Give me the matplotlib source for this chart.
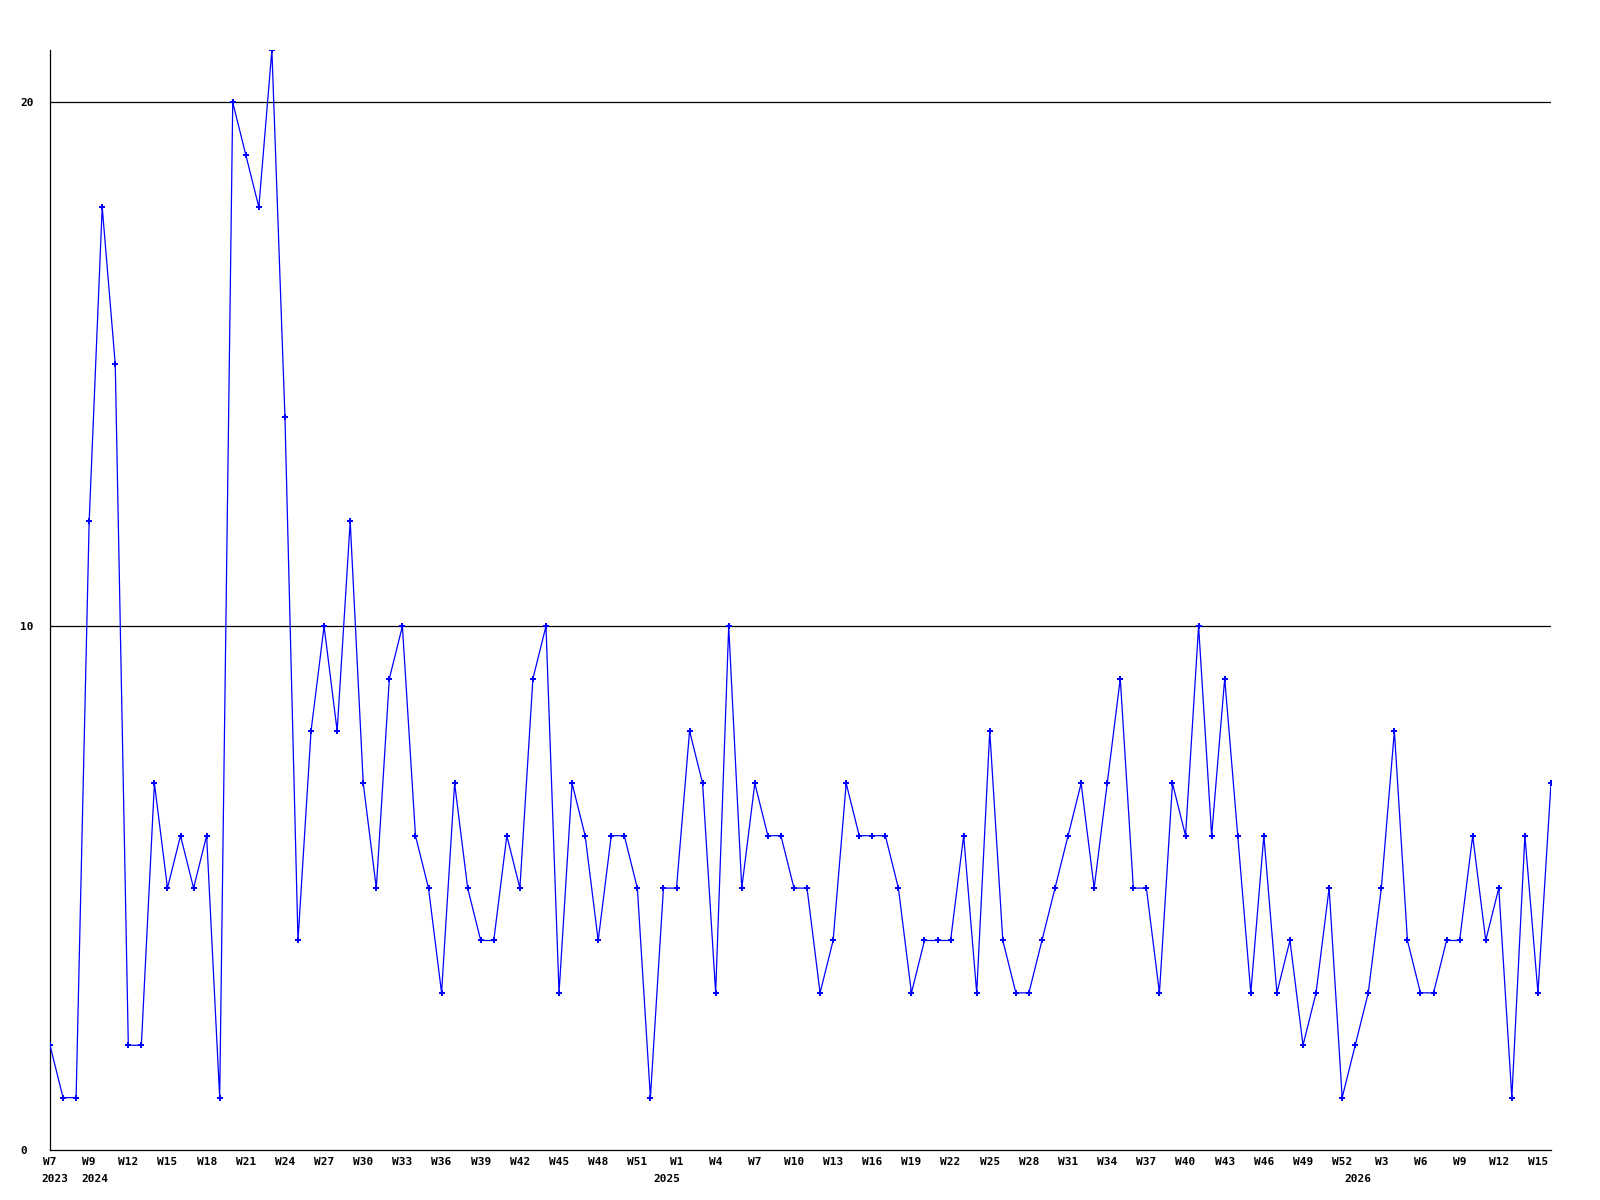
import matplotlib
matplotlib.use("Agg")
import matplotlib.pyplot as plt

# weekly counts, one value per week
values = [2, 1, 1, 12, 18, 15, 2, 2, 7, 5,
          6, 5, 6, 1, 20, 19, 18, 21, 14, 4,
          8, 10, 8, 12, 7, 5, 9, 10, 6, 5,
          3, 7, 5, 4, 4, 6, 5, 9, 10, 3,
          7, 6, 4, 6, 6, 5, 1, 5, 5, 8,
          7, 3, 10, 5, 7, 6, 6, 5, 5, 3,
          4, 7, 6, 6, 6, 5, 3, 4, 4, 4,
          6, 3, 8, 4, 3, 3, 4, 5, 6, 7,
          5, 7, 9, 5, 5, 3, 7, 6, 10, 6,
          9, 6, 3, 6, 3, 4, 2, 3, 5, 1,
          2, 3, 5, 8, 4, 3, 3, 4, 4, 6,
          4, 5, 1, 6, 3, 7]

# every third week gets a label
week_labels = (["W7", "W9"] + ["W%d" % w for w in range(12, 52, 3)]
               + ["W%d" % w for w in range(1, 53, 3)]
               + ["W3", "W6", "W9", "W12", "W15"])
week_ticks = list(range(0, 3 * len(week_labels), 3))

# year captions under the week row (index of the week they sit under)
years = ["2023", "2024", "2025", "2026"]
year_idx = [0.4, 3.4, 47.3, 100.2]

y_ticks = [0, 10, 20]

fig = plt.figure(figsize=(16, 12), dpi=100)
ax = fig.add_axes([50 / 1600, 50 / 1200, 1501 / 1600, 1100 / 1200])

font = {'family': 'DejaVu Sans Mono', 'weight': 'bold', 'size': 8}

for yv in y_ticks[1:]:
    ax.axhline(yv, color='black', linewidth=0.9, zorder=1)

x = list(range(len(values)))
ax.plot(x, values, color='#0000ff', linewidth=0.9, marker='P', markersize=4,
        markeredgewidth=0, zorder=3)

ax.set_xlim(0, len(values) - 1)
ax.set_ylim(0, 21)

ax.spines['top'].set_visible(False)
ax.spines['right'].set_visible(False)
ax.spines['left'].set_linewidth(0.9)
ax.spines['bottom'].set_linewidth(0.9)

ax.set_yticks(y_ticks)
ax.set_yticklabels([str(v) for v in y_ticks], fontdict=font, ha='left')
ax.tick_params(axis='y', length=0, pad=21.5)

ax.set_xticks(week_ticks)
ax.set_xticklabels(week_labels, fontdict=font)
ax.tick_params(axis='x', length=0, pad=5)

for yr, xi in zip(years, year_idx):
    ax.annotate(yr, xy=(xi, 0), xycoords=('data', 'axes fraction'),
                xytext=(0, -24), textcoords='offset pixels',
                ha='center', va='top', **font)

fig.savefig('out.png', dpi=100)
